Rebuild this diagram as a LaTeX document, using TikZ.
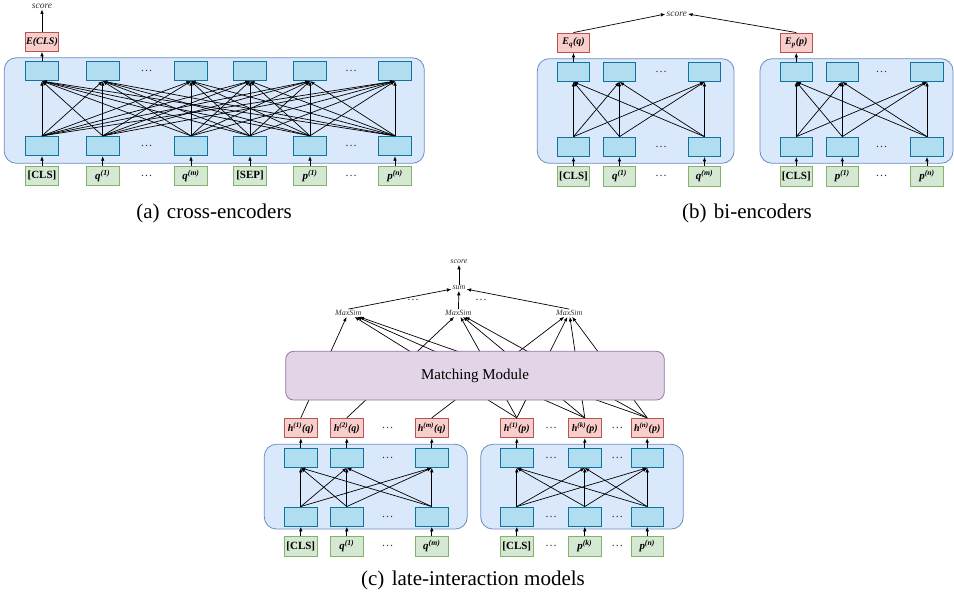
\documentclass[tikz,border=0pt]{standalone}
\usepackage{fontspec}
\setmainfont{Liberation Serif}
\usetikzlibrary{arrows.meta}

\definecolor{encfill}{HTML}{DAE8FC}
\definecolor{encline}{HTML}{6C8EBF}
\definecolor{cellfill}{HTML}{B1DDF0}
\definecolor{cellline}{HTML}{10739E}
\definecolor{tokfill}{HTML}{D5E8D4}
\definecolor{tokline}{HTML}{82B366}
\definecolor{embfill}{HTML}{F8CECC}
\definecolor{embline}{HTML}{B85450}
\definecolor{modfill}{HTML}{E1D5E7}
\definecolor{modline}{HTML}{9673A6}

\newcommand\tokv[2]{\textit{#1}\textsuperscript{\itshape(#2)}}
\newcommand\embv[2]{h\textsuperscript{(#1)}(#2)}

\tikzset{
  enc/.style={draw=encline, fill=encfill, rounded corners=12pt, line width=0.8pt},
  cell/.style={draw=cellline, fill=cellfill, minimum width=32.5pt, minimum height=19.5pt, inner sep=0pt, line width=0.8pt},
  tok/.style={draw=tokline, fill=tokfill, minimum width=32.5pt, minimum height=19.5pt, inner sep=0pt, line width=0.8pt,
    font=\bfseries\fontsize{11}{12}\selectfont},
  emb/.style={draw=embline, fill=embfill, minimum width=32.5pt, minimum height=19.5pt, inner sep=0pt, line width=0.8pt,
    font=\bfseries\itshape\fontsize{10}{11}\selectfont},
  module/.style={draw=modline, fill=modfill, rounded corners=8pt, line width=0.8pt, minimum width=378.6pt,
    minimum height=48.7pt, font=\fontsize{15}{17}\selectfont},
  lbl/.style={font=\itshape\fontsize{9.5}{10}\selectfont, text=black!80, inner sep=1pt},
  slbl/.style={font=\itshape\fontsize{8}{9}\selectfont, text=black!80, inner sep=1pt},
  dots/.style={font=\fontsize{12}{12}\selectfont, text=black!80, inner sep=0pt},
  caption/.style={font=\fontsize{21}{24}\selectfont},
  arr/.style={-{Latex[length=4.5pt,width=3.6pt]}, line width=0.7pt},
}

\begin{document}
\begin{tikzpicture}[x=1pt,y=-1pt]
\useasboundingbox (0,0) rectangle (954,600);

% (a) cross-encoders
\draw[enc] (4.3,57.7) rectangle (424.3,163.3);
\foreach \i/\x/\t in {1/42/{[CLS]},2/102.7/{\tokv{q}{1}},3/191/{\tokv{q}{m}},4/250/{[SEP]},5/310/{\tokv{p}{1}},6/395/{\tokv{p}{n}}}{
  \node[cell] (a-top-\i) at (\x,71) {};
  \node[cell] (a-bot-\i) at (\x,146) {};
  \node[tok] (a-in-\i) at (\x,175.7) {\t};
  \draw[arr] (a-in-\i) -- (a-bot-\i);
}
\foreach \j/\x in {1/146.7,2/351}
  \foreach \r/\y in {top/71,bot/146,in/175.7}
    \node[dots] (a-dots-\r-\j) at (\x,\y) {\dots};
\foreach \i in {1,...,6}
  \foreach \j in {1,...,6}
    \draw[arr] (a-bot-\i.north) -- (a-top-\j.south);
\node[emb] (a-emb) at (42,41.7) {E(CLS)};
\node[lbl] (a-score) at (42,6) {score};
\draw[arr] (a-top-1) -- (a-emb);
\draw[arr] (a-emb) -- (a-score);
\node[caption] (a-cap) at (214,213) {(a)\hspace{0.35em}cross-encoders};

% (b) bi-encoders
\draw[enc] (537.3,58.7) rectangle (734,163.3);
\draw[enc] (760,58.7) rectangle (953,163.3);
\foreach \i/\x/\t in {1/573.5/{[CLS]},2/619.5/{\tokv{q}{1}},3/704.5/{\tokv{q}{m}}}{
  \node[cell] (b-qtop-\i) at (\x,71.7) {};
  \node[cell] (b-qbot-\i) at (\x,146.8) {};
  \node[tok] (b-qin-\i) at (\x,176.3) {\t};
  \draw[arr] (b-qin-\i) -- (b-qbot-\i);
}
\foreach \i/\x/\t in {1/796.3/{[CLS]},2/842.3/{\tokv{p}{1}},3/927/{\tokv{p}{n}}}{
  \node[cell] (b-ptop-\i) at (\x,71.7) {};
  \node[cell] (b-pbot-\i) at (\x,146.8) {};
  \node[tok] (b-pin-\i) at (\x,176.3) {\t};
  \draw[arr] (b-pin-\i) -- (b-pbot-\i);
}
\foreach \s/\x in {q/661,p/881.7}
  \foreach \r/\y in {top/71.7,bot/146.8,in/176.3}
    \node[dots] (b-dots-\s-\r) at (\x,\y) {\dots};
\foreach \s in {q,p}
  \foreach \i in {1,2,3}
    \foreach \j in {1,2,3}
      \draw[arr] (b-\s bot-\i.north) -- (b-\s top-\j.south);
\node[emb] (b-eq) at (573.5,42.7) {E\textsubscript{q}(q)};
\node[emb] (b-ep) at (796.3,42.7) {E\textsubscript{p}(p)};
\node[lbl] (b-score) at (676.7,14) {score};
\draw[arr] (b-qtop-1) -- (b-eq);
\draw[arr] (b-ptop-1) -- (b-ep);
\draw[arr] (b-eq.north) -- (b-score.west);
\draw[arr] (b-ep.north) -- (b-score.east);
\node[caption] (b-cap) at (747,213) {(b)\hspace{0.35em}bi-encoders};

% (c) late-interaction models
\draw[enc] (264.3,444.3) rectangle (467.3,529);
\draw[enc] (480.7,444.3) rectangle (683.3,529);
\foreach \i/\x/\t/\h in {1/300.8/{[CLS]}/{\embv{1}{q}},2/346.8/{\tokv{q}{1}}/{\embv{2}{q}},3/431.8/{\tokv{q}{m}}/{\embv{m}{q}}}{
  \node[cell] (c-qtop-\i) at (\x,457.7) {};
  \node[cell] (c-qbot-\i) at (\x,516.7) {};
  \node[tok] (c-qin-\i) at (\x,546.3) {\t};
  \node[emb] (c-hq-\i) at (\x,428) {\h};
  \draw[arr] (c-qin-\i) -- (c-qbot-\i);
  \draw[arr] (c-qtop-\i) -- (c-hq-\i);
}
\foreach \i/\x/\t/\h in {1/516.8/{[CLS]}/{\embv{1}{p}},2/584.8/{\tokv{p}{k}}/{\embv{k}{p}},3/647.2/{\tokv{p}{n}}/{\embv{n}{p}}}{
  \node[cell] (c-ptop-\i) at (\x,457.7) {};
  \node[cell] (c-pbot-\i) at (\x,516.7) {};
  \node[tok] (c-pin-\i) at (\x,546.3) {\t};
  \node[emb] (c-hp-\i) at (\x,428) {\h};
  \draw[arr] (c-pin-\i) -- (c-pbot-\i);
  \draw[arr] (c-ptop-\i) -- (c-hp-\i);
}
\foreach \k/\x in {1/387.7,2/551,3/617.3}
  \foreach \r/\y in {h/428,top/457.7,bot/516.7,in/546.3}
    \node[dots] (c-dots-\r-\k) at (\x,\y) {\dots};
\foreach \s in {q,p}
  \foreach \i in {1,2,3}
    \foreach \j in {1,2,3}
      \draw[arr] (c-\s bot-\i.north) -- (c-\s top-\j.south);

% maxsim and sum
\foreach \j/\x in {1/348.3,2/458.3,3/569.3}
  \node[slbl] (c-ms-\j) at (\x,313) {MaxSim};
\node[slbl] (c-sum) at (459,287.7) {sum};
\node[slbl] (c-score) at (459,261.7) {score};
\node[dots] (c-dots-s1) at (413,300) {\dots};
\node[dots] (c-dots-s2) at (481,300) {\dots};
\foreach \i in {1,2,3}
  \draw[arr] (c-hq-\i.north) -- (c-ms-\i);
\foreach \i in {1,2,3}
  \foreach \j in {1,2,3}
    \draw[arr] (c-hp-\i.north) -- (c-ms-\j);
\node[module] (c-mod) at (475,375.65) {Matching Module};
\draw[arr] (c-ms-1.north) -- (c-sum);
\draw[arr] (c-ms-2) -- (c-sum);
\draw[arr] (c-ms-3.north) -- (c-sum);
\draw[arr] (c-sum) -- (c-score);
\node[caption] (c-cap) at (473,580) {(c)\hspace{0.35em}late-interaction models};
\end{tikzpicture}
\end{document}
